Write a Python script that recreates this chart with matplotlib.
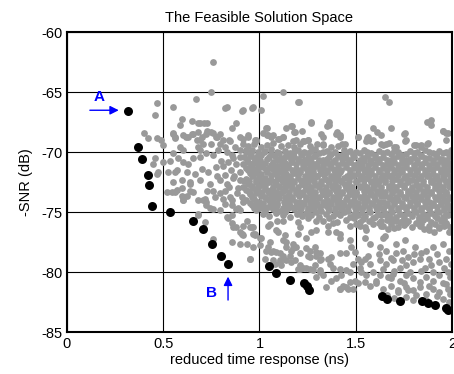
import matplotlib
matplotlib.use("Agg")
import matplotlib.pyplot as plt
import numpy as np

plt.rcParams['font.family'] = ['Liberation Sans', 'DejaVu Sans']
plt.rcParams['axes.unicode_minus'] = False

# non-dominated designs (front)
pareto_x = [0.316, 0.368, 0.389, 0.423, 0.428, 0.442, 0.537, 0.654, 0.705, 0.756, 0.803, 0.839,
            1.048, 1.086, 1.16, 1.233, 1.247, 1.259, 1.634, 1.663, 1.73, 1.845, 1.877, 1.91, 1.966, 1.98]
pareto_y = [-66.56, -69.6, -70.56, -71.9, -72.7, -74.5, -74.97, -75.7, -76.4, -77.6, -78.6, -79.3,
            -79.5, -80.06, -80.67, -80.86, -81.17, -81.45, -81.97, -82.2, -82.4, -82.4, -82.55, -82.7, -82.95, -83.1]

# all other feasible designs
gray_pts = [
    # sparse upper fringe
    (0.76,-62.5),(0.75,-65.0),(1.12,-65.0),(1.02,-65.3),(1.20,-65.8),(0.82,-66.3),(0.83,-66.2),(0.91,-66.6),
    (0.96,-66.3),(1.01,-66.5),(0.73,-67.6),(0.88,-67.6),(0.86,-68.0),(1.04,-68.0),(1.14,-68.0),(1.17,-67.8),
    (1.18,-68.3),(1.22,-68.2),(1.27,-67.5),(1.36,-67.5),(1.65,-65.4),(1.67,-65.8),(1.35,-67.8),(1.40,-68.3),
    (1.42,-68.6),(1.43,-69.3),(1.59,-68.0),(1.61,-68.3),(1.63,-68.6),(1.68,-68.0),(1.75,-68.5),(1.87,-67.5),
    (1.89,-67.3),(1.89,-67.7),(1.95,-68.2),(1.98,-68.4),(1.51,-68.7),(1.56,-68.8),(1.59,-69.0),(1.64,-69.4),
    (1.67,-69.2),(1.71,-69.6),(1.76,-69.0),(1.81,-69.4),(1.84,-69.6),(1.87,-69.3),(1.97,-69.0),
    (0.47,-65.9),(0.55,-66.2),(0.67,-65.6),(0.46,-66.9),(0.60,-67.2),(0.59,-67.7),(0.65,-67.4),(0.68,-67.6),
    (0.71,-67.6),(0.40,-68.4),(0.42,-68.8),(0.47,-68.8),(0.49,-69.0),(0.55,-68.4),(0.56,-68.8),(0.62,-68.7),
    (0.65,-68.5),(0.73,-68.2),(0.76,-68.4),(0.78,-68.7),(0.81,-69.0),(0.84,-69.0),(0.90,-68.7),(0.94,-68.7),
    (0.98,-69.0),(1.04,-68.6),(1.06,-68.7),(1.10,-68.9),(1.12,-68.7),(1.19,-69.0),(1.23,-69.1),(1.25,-69.0),
    (1.30,-69.3),(1.33,-69.3),(0.69,-67.6),(0.69,-69.0),(0.69,-69.8),(0.93,-69.8),(0.98,-69.1),
    (0.915,-66.5),(0.967,-66.2),(1.205,-65.8),(1.036,-68.0),(1.019,-68.4),(1.045,-68.6),(1.071,-68.6),
    (1.097,-68.9),(1.122,-68.7),(1.166,-67.8),(1.183,-68.3),(1.269,-67.6),(1.361,-67.75),(1.321,-68.45),
    (1.33,-68.7),(1.399,-68.45),(1.416,-68.7),(1.174,-69.1),(1.226,-69.1),(1.252,-69.0),(0.941,-68.6),
    (0.976,-69.0),(0.915,-68.9),(1.511,-68.7),(1.563,-68.7),(1.554,-69.1),(1.58,-69.1),(1.632,-69.3),
    (1.658,-69.3),(1.70,-69.6),(1.753,-68.4),(1.753,-69.1),(1.80,-69.4),(1.839,-69.4),(1.874,-69.2),
    (1.951,-68.2),(1.969,-68.4),(1.442,-69.3),
    # left part of the cloud
    (0.50,-69.4),(0.458,-70.5),(0.497,-70.8),(0.449,-70.95),(0.475,-71.6),(0.527,-71.6),(0.466,-71.8),
    (0.561,-71.6),(0.553,-68.45),(0.561,-68.7),(0.605,-68.6),(0.63,-68.7),(0.656,-68.45),(0.682,-68.3),
    (0.70,-68.7),(0.725,-68.45),(0.751,-68.3),(0.777,-68.7),(0.795,-68.45),(0.674,-69.0),(0.708,-69.3),
    (0.682,-69.6),(0.751,-69.3),(0.795,-69.3),(0.82,-69.6),(0.846,-69.1),(0.872,-69.6),(0.898,-69.8),
    (0.915,-69.3),(0.587,-69.6),(0.605,-69.8),(0.553,-70.1),(0.579,-70.5),(0.535,-70.7),(0.605,-70.8),
    (0.63,-70.95),(0.656,-70.5),(0.691,-70.4),(0.725,-70.1),(0.76,-70.25),(0.786,-69.8),(0.57,-71.5),
    (0.622,-71.6),(0.665,-71.8),(0.70,-71.4),(0.734,-71.6),(0.777,-71.2),(0.812,-71.1),(0.838,-70.8),
    (0.864,-70.5),(0.898,-70.4),(0.915,-70.95),(0.553,-72.5),(0.596,-72.3),(0.639,-72.5),(0.691,-72.3),
    (0.743,-72.6),(0.795,-72.3),(0.829,-72.6),(0.864,-72.1),(0.898,-72.3),(0.915,-72.9),(0.518,-73.3),
    (0.544,-73.3),(0.57,-73.1),(0.596,-73.6),(0.605,-73.95),(0.639,-73.2),(0.656,-73.3),(0.682,-74.0),
    (0.708,-73.95),(0.725,-74.1),(0.76,-73.2),(0.795,-73.4),(0.82,-73.2),(0.846,-73.7),(0.881,-73.4),
    (0.907,-73.7),(0.742,-74.6),(0.76,-74.7),(0.794,-74.8),(0.82,-74.3),(0.855,-74.4),(0.89,-74.6),
    (0.915,-74.1),(0.682,-75.25),(0.829,-75.4),(0.855,-75.25),(0.898,-74.8),(0.838,-75.5),(0.898,-76.6),
    (0.915,-76.9),(0.76,-77.2),(0.83,-70.0),(0.86,-70.2),(0.88,-71.0),(0.85,-71.5),(0.82,-71.9),
    (0.87,-72.0),(0.90,-71.6),(0.84,-72.9),(0.89,-73.0),(0.80,-70.7),(0.78,-72.0),(0.92,-72.4),
    (0.73,-73.2),(0.77,-73.7),(0.81,-73.9),(0.86,-74.0),(0.88,-74.7),(0.561,-73.3),(0.596,-73.0),
    (0.639,-72.6),(0.622,-73.6),(0.604,-74.0),(0.717,-73.9),(0.725,-74.4),(0.68,-75.1),(0.72,-75.8),
    (0.86,-75.9),(0.88,-76.2),
    # dense core
    (0.94,-69.5),(0.97,-69.3),(1.01,-69.6),(1.04,-69.4),(1.07,-69.2),(1.11,-69.5),(1.15,-69.4),(1.18,-69.6),
    (1.21,-69.3),(1.26,-69.5),(1.29,-69.7),(1.33,-69.4),(1.37,-69.6),(1.41,-69.5),(1.44,-69.8),
    (0.93,-70.0),(0.96,-69.8),(0.99,-70.0),(1.03,-69.9),(1.06,-69.7),(1.09,-70.0),(1.13,-69.9),(1.16,-70.1),
    (1.20,-69.8),(1.23,-70.0),(1.27,-69.9),(1.31,-70.1),(1.35,-69.9),(1.39,-70.0),(1.43,-70.2),(1.47,-69.9),
    (1.50,-70.0),(1.54,-69.8),(1.58,-70.1),(1.62,-69.9),(1.66,-70.0),(1.70,-69.9),(1.74,-70.2),(1.78,-69.9),
    (1.82,-70.0),(1.86,-69.8),(1.90,-70.1),(1.93,-69.9),(1.97,-70.0),(1.995,-69.8),
    (0.92,-70.4),(0.95,-70.3),(0.98,-70.5),(1.01,-70.2),(1.05,-70.4),(1.08,-70.3),(1.11,-70.5),(1.15,-70.3),
    (1.18,-70.4),(1.22,-70.2),(1.25,-70.5),(1.29,-70.3),(1.33,-70.6),(1.36,-70.4),(1.41,-70.3),(1.45,-70.5),
    (1.49,-70.4),(1.52,-70.6),(1.56,-70.3),(1.60,-70.5),(1.64,-70.4),(1.68,-70.6),(1.72,-70.3),(1.76,-70.6),
    (1.80,-70.4),(1.84,-70.3),(1.88,-70.5),(1.92,-70.4),(1.96,-70.6),(1.99,-70.3),
    (0.94,-70.8),(0.97,-70.9),(1.00,-70.7),(1.03,-70.9),(1.07,-70.8),(1.10,-70.6),(1.13,-70.9),(1.17,-70.8),
    (1.21,-70.7),(1.24,-70.9),(1.27,-70.8),(1.31,-70.7),(1.35,-70.9),(1.38,-70.8),(1.43,-70.9),(1.47,-70.8),
    (1.51,-70.9),(1.54,-70.7),(1.58,-70.9),(1.62,-70.8),(1.66,-71.0),(1.70,-70.8),(1.74,-70.9),(1.78,-70.7),
    (1.82,-70.9),(1.86,-70.8),(1.90,-70.9),(1.94,-70.7),(1.98,-70.9),
    (0.93,-71.3),(0.96,-71.2),(0.99,-71.4),(1.02,-71.2),(1.05,-71.3),(1.09,-71.1),(1.12,-71.3),(1.15,-71.2),
    (1.19,-71.4),(1.23,-71.2),(1.26,-71.3),(1.30,-71.1),(1.33,-71.3),(1.37,-71.2),(1.40,-71.4),(1.45,-71.2),
    (1.49,-71.3),(1.53,-71.2),(1.56,-71.4),(1.60,-71.2),(1.64,-71.3),(1.68,-71.2),(1.72,-71.4),(1.76,-71.2),
    (1.80,-71.3),(1.84,-71.2),(1.88,-71.4),(1.92,-71.2),(1.96,-71.3),(1.99,-71.1),
    (0.95,-71.7),(0.98,-71.6),(1.01,-71.8),(1.04,-71.6),(1.08,-71.7),(1.11,-71.6),(1.14,-71.8),(1.18,-71.7),
    (1.21,-71.6),(1.25,-71.8),(1.28,-71.6),(1.32,-71.7),(1.35,-71.6),(1.39,-71.8),(1.42,-71.6),(1.47,-71.7),
    (1.51,-71.8),(1.55,-71.6),(1.58,-71.7),(1.62,-71.6),(1.66,-71.8),(1.70,-71.7),(1.74,-71.6),(1.78,-71.8),
    (1.82,-71.6),(1.86,-71.7),(1.90,-71.8),(1.94,-71.6),(1.97,-71.7),
    (0.93,-72.2),(0.96,-72.0),(1.00,-72.2),(1.03,-72.1),(1.06,-72.3),(1.10,-72.1),(1.13,-72.0),(1.16,-72.2),
    (1.20,-72.1),(1.23,-72.3),(1.27,-72.1),(1.30,-72.0),(1.34,-72.2),(1.37,-72.1),(1.41,-72.3),(1.44,-72.1),
    (1.48,-72.0),(1.52,-72.2),(1.56,-72.1),(1.60,-72.3),(1.63,-72.1),(1.67,-72.0),(1.71,-72.2),(1.75,-72.1),
    (1.79,-72.3),(1.83,-72.1),(1.87,-72.0),(1.91,-72.2),(1.95,-72.1),(1.99,-72.3),
    (0.94,-72.6),(0.98,-72.5),(1.01,-72.7),(1.05,-72.5),(1.08,-72.6),(1.12,-72.5),(1.15,-72.7),(1.18,-72.5),
    (1.22,-72.6),(1.25,-72.5),(1.29,-72.7),(1.32,-72.6),(1.36,-72.5),(1.39,-72.7),(1.43,-72.5),(1.46,-72.6),
    (1.50,-72.5),(1.54,-72.7),(1.58,-72.5),(1.61,-72.6),(1.65,-72.5),(1.69,-72.7),(1.73,-72.6),(1.77,-72.5),
    (1.81,-72.7),(1.85,-72.6),(1.89,-72.5),(1.93,-72.7),(1.97,-72.5),
    (0.93,-73.1),(0.96,-73.0),(0.99,-73.2),(1.03,-73.0),(1.06,-73.1),(1.10,-72.9),(1.13,-73.1),(1.17,-73.0),
    (1.20,-73.2),(1.24,-73.0),(1.27,-73.1),(1.31,-72.9),(1.34,-73.1),(1.38,-73.0),(1.41,-73.2),(1.45,-73.0),
    (1.48,-73.1),(1.52,-72.9),(1.56,-73.1),(1.59,-73.0),(1.63,-73.2),(1.67,-73.0),(1.71,-73.1),(1.75,-72.9),
    (1.79,-73.1),(1.83,-73.0),(1.87,-73.2),(1.91,-73.0),(1.95,-73.1),(1.99,-72.9),
    (0.95,-73.5),(0.98,-73.4),(1.01,-73.6),(1.05,-73.4),(1.08,-73.5),(1.11,-73.4),(1.15,-73.6),(1.19,-73.4),
    (1.22,-73.5),(1.26,-73.4),(1.29,-73.6),(1.33,-73.5),(1.36,-73.4),(1.40,-73.6),(1.43,-73.4),(1.47,-73.5),
    (1.50,-73.4),(1.54,-73.6),(1.58,-73.5),(1.61,-73.4),(1.65,-73.6),(1.69,-73.4),(1.73,-73.5),(1.77,-73.4),
    (1.81,-73.6),(1.85,-73.5),(1.89,-73.4),(1.93,-73.6),(1.97,-73.4),
    (0.93,-74.0),(0.97,-73.9),(1.00,-74.1),(1.04,-73.9),(1.07,-74.0),(1.10,-73.8),(1.14,-74.0),(1.17,-73.9),
    (1.21,-74.1),(1.24,-73.9),(1.28,-74.0),(1.31,-73.8),(1.35,-74.0),(1.38,-73.9),(1.42,-74.1),(1.45,-73.9),
    (1.49,-74.0),(1.53,-73.8),(1.56,-74.0),(1.60,-73.9),(1.64,-74.1),(1.68,-73.9),(1.72,-74.0),(1.76,-73.8),
    (1.80,-74.0),(1.84,-73.9),(1.88,-74.1),(1.92,-73.9),(1.96,-74.0),(1.99,-73.8),
    (0.96,-74.4),(0.99,-74.3),(1.02,-74.5),(1.06,-74.3),(1.09,-74.4),(1.13,-74.3),(1.16,-74.5),(1.20,-74.4),
    (1.23,-74.3),(1.27,-74.5),(1.30,-74.3),(1.34,-74.4),(1.37,-74.3),(1.41,-74.5),(1.44,-74.4),(1.48,-74.3),
    (1.51,-74.5),(1.55,-74.4),(1.59,-74.3),(1.62,-74.5),(1.66,-74.4),(1.70,-74.3),(1.74,-74.5),(1.78,-74.4),
    (1.82,-74.3),(1.86,-74.5),(1.90,-74.4),(1.94,-74.3),(1.98,-74.5),
    (0.98,-74.8),(1.03,-74.9),(1.07,-74.7),(1.10,-74.9),(1.14,-74.8),(1.18,-74.7),(1.21,-74.9),(1.25,-74.8),
    (1.28,-74.7),(1.32,-74.9),(1.36,-74.8),(1.39,-74.9),(1.43,-74.7),(1.46,-74.9),(1.50,-74.8),(1.53,-74.7),
    (1.57,-74.9),(1.61,-74.8),(1.64,-74.7),(1.68,-74.9),(1.72,-74.8),(1.76,-74.7),(1.80,-74.9),(1.84,-74.8),
    (1.88,-74.7),(1.92,-74.9),(1.96,-74.8),(1.99,-74.7),
    (1.05,-75.3),(1.12,-75.2),(1.16,-75.4),(1.22,-75.3),(1.27,-75.2),(1.31,-75.4),(1.38,-75.3),(1.42,-75.2),
    (1.47,-75.4),(1.51,-75.2),(1.55,-75.3),(1.60,-75.4),(1.63,-75.2),(1.67,-75.3),(1.71,-75.4),(1.75,-75.2),
    (1.79,-75.3),(1.83,-75.4),(1.87,-75.2),(1.91,-75.3),(1.95,-75.4),(1.98,-75.2),
    (1.09,-75.7),(1.20,-75.8),(1.33,-75.7),(1.40,-75.8),(1.45,-75.6),(1.52,-75.8),(1.57,-75.7),(1.62,-75.9),
    (1.66,-75.6),(1.73,-75.8),(1.77,-75.7),(1.81,-75.9),(1.85,-75.6),(1.89,-75.8),(1.94,-75.7),(1.97,-75.9),
    (1.47,-76.1),(1.55,-76.2),(1.64,-76.1),(1.70,-76.3),(1.79,-76.2),(1.88,-76.1),(1.93,-76.3),(1.99,-76.2),
    # core, in-between rows
    (0.955,-70.1),(0.99,-70.2),(1.025,-70.0),(1.06,-70.15),(1.10,-70.05),(1.14,-70.2),(1.18,-70.0),
    (1.215,-70.15),(1.25,-70.05),(1.29,-70.2),(1.33,-70.0),(1.37,-70.15),(1.45,-70.05),(1.485,-70.2),
    (1.52,-70.1),(1.56,-70.0),(1.60,-70.2),(1.64,-70.05),(1.68,-70.15),(1.72,-70.0),(1.76,-70.15),
    (1.80,-70.05),(1.84,-70.2),(1.88,-70.0),(1.915,-70.15),(1.95,-70.05),(1.985,-70.2),
    (0.935,-70.6),(0.97,-70.5),(1.005,-70.65),(1.04,-70.55),(1.09,-70.6),(1.125,-70.5),(1.165,-70.65),
    (1.20,-70.55),(1.235,-70.65),(1.27,-70.5),(1.31,-70.6),(1.35,-70.55),(1.39,-70.65),(1.43,-70.55),
    (1.47,-70.6),(1.535,-70.5),(1.575,-70.65),(1.62,-70.55),(1.66,-70.6),(1.70,-70.5),(1.74,-70.65),
    (1.78,-70.55),(1.82,-70.6),(1.86,-70.5),(1.90,-70.65),(1.94,-70.55),(1.975,-70.6),
    (0.955,-71.0),(0.99,-71.05),(1.02,-70.95),(1.06,-71.05),(1.115,-71.0),(1.15,-71.05),(1.19,-70.95),
    (1.225,-71.05),(1.26,-71.0),(1.29,-70.95),(1.33,-71.05),(1.365,-71.0),(1.41,-71.05),(1.45,-70.95),
    (1.49,-71.05),(1.525,-71.0),(1.565,-71.05),(1.60,-70.95),(1.64,-71.05),(1.685,-71.0),(1.72,-71.05),
    (1.76,-70.95),(1.80,-71.05),(1.845,-71.0),(1.88,-71.05),(1.92,-70.95),(1.955,-71.05),(1.99,-71.0),
    (0.94,-71.5),(0.975,-71.45),(1.035,-71.5),(1.07,-71.4),(1.10,-71.5),(1.135,-71.45),(1.17,-71.5),
    (1.21,-71.45),(1.245,-71.5),(1.28,-71.4),(1.315,-71.5),(1.35,-71.45),(1.385,-71.5),(1.425,-71.45),
    (1.47,-71.5),(1.51,-71.4),(1.545,-71.5),(1.58,-71.45),(1.62,-71.5),(1.66,-71.45),(1.70,-71.5),
    (1.74,-71.4),(1.78,-71.5),(1.82,-71.45),(1.86,-71.5),(1.90,-71.4),(1.94,-71.5),(1.98,-71.45),
    (0.965,-71.9),(1.00,-71.95),(1.06,-71.9),(1.09,-71.95),(1.125,-71.85),(1.16,-71.95),(1.20,-71.9),
    (1.235,-71.95),(1.265,-71.85),(1.30,-71.95),(1.335,-71.9),(1.37,-71.95),(1.405,-71.85),(1.455,-71.95),
    (1.49,-71.9),(1.53,-71.95),(1.57,-71.85),(1.60,-71.95),(1.64,-71.9),(1.68,-71.95),(1.72,-71.85),
    (1.76,-71.95),(1.80,-71.9),(1.84,-71.95),(1.88,-71.85),(1.92,-71.95),(1.96,-71.9),(1.99,-71.95),
    (0.945,-72.4),(0.98,-72.3),(1.015,-72.4),(1.045,-72.35),(1.085,-72.4),(1.115,-72.3),(1.145,-72.4),
    (1.175,-72.35),(1.215,-72.4),(1.25,-72.3),(1.285,-72.4),(1.32,-72.35),(1.355,-72.4),(1.39,-72.3),
    (1.425,-72.4),(1.465,-72.35),(1.50,-72.4),(1.54,-72.3),(1.58,-72.4),(1.62,-72.35),(1.65,-72.3),
    (1.69,-72.4),(1.73,-72.35),(1.77,-72.3),(1.81,-72.4),(1.85,-72.35),(1.89,-72.3),(1.93,-72.4),(1.97,-72.35),
    (0.96,-72.8),(0.995,-72.85),(1.03,-72.75),(1.07,-72.85),(1.10,-72.8),(1.135,-72.85),(1.165,-72.75),
    (1.20,-72.85),(1.235,-72.8),(1.27,-72.85),(1.305,-72.75),(1.345,-72.85),(1.375,-72.8),(1.41,-72.85),
    (1.445,-72.75),(1.48,-72.85),(1.52,-72.8),(1.56,-72.85),(1.595,-72.75),(1.63,-72.85),(1.67,-72.8),
    (1.71,-72.85),(1.75,-72.75),(1.79,-72.85),(1.83,-72.8),(1.87,-72.85),(1.91,-72.75),(1.95,-72.85),(1.985,-72.8),
    (0.945,-73.3),(0.98,-73.25),(1.015,-73.3),(1.045,-73.2),(1.085,-73.3),(1.12,-73.25),(1.155,-73.3),
    (1.19,-73.2),(1.225,-73.3),(1.255,-73.25),(1.29,-73.3),(1.325,-73.2),(1.36,-73.3),(1.395,-73.25),
    (1.43,-73.3),(1.465,-73.2),(1.50,-73.3),(1.54,-73.25),(1.575,-73.3),(1.61,-73.2),(1.65,-73.3),
    (1.69,-73.25),(1.73,-73.3),(1.77,-73.2),(1.81,-73.3),(1.85,-73.25),(1.89,-73.3),(1.93,-73.2),(1.97,-73.3),
    (0.96,-73.7),(1.03,-73.75),(1.065,-73.65),(1.095,-73.75),(1.13,-73.7),(1.17,-73.75),(1.205,-73.65),
    (1.24,-73.75),(1.275,-73.7),(1.31,-73.75),(1.345,-73.65),(1.38,-73.75),(1.415,-73.7),(1.455,-73.75),
    (1.49,-73.65),(1.52,-73.75),(1.56,-73.7),(1.595,-73.75),(1.63,-73.65),(1.67,-73.75),(1.71,-73.7),
    (1.75,-73.75),(1.79,-73.65),(1.83,-73.75),(1.87,-73.7),(1.91,-73.75),(1.95,-73.65),(1.985,-73.75),
    (0.95,-74.2),(0.985,-74.15),(1.02,-74.2),(1.055,-74.1),(1.09,-74.2),(1.125,-74.15),(1.155,-74.2),
    (1.19,-74.1),(1.225,-74.2),(1.26,-74.15),(1.295,-74.2),(1.33,-74.1),(1.365,-74.2),(1.40,-74.15),
    (1.435,-74.2),(1.47,-74.1),(1.51,-74.2),(1.545,-74.15),(1.58,-74.2),(1.62,-74.1),(1.66,-74.2),
    (1.70,-74.15),(1.74,-74.2),(1.78,-74.1),(1.82,-74.2),(1.86,-74.15),(1.90,-74.2),(1.94,-74.1),(1.975,-74.2),
    (0.97,-74.6),(1.005,-74.65),(1.045,-74.55),(1.08,-74.65),(1.12,-74.6),(1.15,-74.65),(1.185,-74.55),
    (1.215,-74.65),(1.25,-74.6),(1.285,-74.65),(1.315,-74.55),(1.355,-74.65),(1.39,-74.6),(1.425,-74.65),
    (1.46,-74.55),(1.495,-74.65),(1.53,-74.6),(1.57,-74.65),(1.605,-74.55),(1.64,-74.65),(1.68,-74.6),
    (1.72,-74.65),(1.76,-74.55),(1.80,-74.65),(1.84,-74.6),(1.88,-74.65),(1.92,-74.55),(1.96,-74.65),(1.99,-74.6),
    (1.02,-75.1),(1.085,-75.05),(1.13,-75.0),(1.195,-75.1),(1.24,-75.05),(1.295,-75.0),(1.345,-75.1),
    (1.40,-75.05),(1.44,-75.0),(1.49,-75.1),(1.53,-75.05),(1.575,-75.0),(1.615,-75.1),(1.65,-75.05),
    (1.69,-75.0),(1.73,-75.1),(1.77,-75.05),(1.81,-75.0),(1.85,-75.1),(1.89,-75.05),(1.93,-75.0),(1.97,-75.1),
    (1.25,-75.5),(1.36,-75.5),(1.49,-75.5),(1.535,-75.55),(1.59,-75.5),(1.69,-75.55),(1.75,-75.5),
    (1.83,-75.55),(1.87,-75.45),(1.92,-75.5),(1.96,-75.55),
    (1.50,-75.95),(1.59,-76.0),(1.68,-75.95),(1.75,-76.05),(1.84,-75.95),(1.91,-76.0),(1.97,-76.0),
    # below the core
    (0.933,-75.7),(0.95,-76.2),(0.967,-76.8),(1.045,-76.1),(1.088,-76.5),(1.122,-75.7),(1.209,-76.2),
    (1.20,-76.8),(1.269,-76.6),(1.295,-75.7),(1.356,-76.6),(1.382,-75.9),(1.416,-76.8),(1.002,-77.1),
    (1.52,-76.1),(1.632,-75.7),(1.666,-76.4),(1.718,-76.2),(1.744,-75.7),(1.856,-76.4),(1.908,-76.6),
    (1.96,-76.1),(1.546,-77.1),(1.649,-77.0),
    # lower band above the front
    (0.915,-76.1),(0.967,-76.2),(0.907,-76.8),(0.976,-76.8),(0.933,-77.6),(0.967,-77.9),(0.95,-78.9),
    (1.053,-76.0),(1.097,-76.6),(1.131,-76.9),(1.14,-77.5),(1.174,-77.6),(1.192,-77.9),(1.166,-78.2),
    (1.122,-78.6),(1.105,-78.4),(1.071,-78.2),(1.045,-77.9),(1.062,-78.3),(1.028,-78.9),(1.071,-79.0),
    (1.105,-79.1),(1.166,-79.1),(1.209,-79.4),(1.209,-79.7),(1.243,-79.6),(1.278,-79.8),(1.313,-80.0),
    (1.33,-80.25),(1.243,-78.0),(1.261,-78.2),(1.287,-77.9),(1.295,-78.6),(1.252,-78.6),(1.313,-78.4),
    (1.321,-78.9),(1.356,-78.9),(1.364,-79.3),(1.382,-79.6),(1.416,-79.7),(1.45,-79.8),(1.468,-80.0),
    (1.425,-80.25),(1.399,-80.5),(1.373,-80.7),(1.243,-77.1),(1.295,-76.5),(1.356,-76.1),(1.399,-76.6),
    (1.416,-77.1),(1.468,-77.3),(1.477,-77.9),(1.45,-78.4),(1.416,-78.4),(1.373,-78.7),(1.494,-78.3),
    (1.511,-78.9),(1.528,-79.1),(1.546,-78.9),(1.563,-78.6),(1.572,-79.3),(1.52,-79.6),(1.485,-79.3),
    (1.528,-80.0),(1.554,-80.25),(1.494,-80.7),(1.468,-80.8),(1.433,-81.1),(1.416,-81.4),(1.459,-81.4),
    (1.511,-80.9),(1.546,-80.8),(1.347,-81.2),(1.641,-77.1),(1.71,-77.6),(1.753,-77.3),(1.805,-77.9),
    (1.839,-78.4),(1.865,-78.2),(1.90,-77.9),(1.952,-77.6),(1.986,-78.2),(1.623,-79.0),(1.658,-79.3),
    (1.693,-79.0),(1.727,-79.6),(1.762,-79.4),(1.796,-79.1),(1.831,-78.9),(1.857,-79.6),(1.891,-79.4),
    (1.934,-79.1),(1.969,-78.9),(1.995,-79.3),(1.589,-80.0),(1.623,-80.25),(1.667,-80.4),(1.693,-80.1),
    (1.727,-80.7),(1.762,-80.25),(1.796,-80.5),(1.831,-80.8),(1.865,-80.4),(1.90,-80.7),(1.934,-80.25),
    (1.977,-80.0),(1.99,-80.4),(1.606,-80.9),(1.641,-81.4),(1.684,-81.1),(1.718,-81.5),(1.762,-81.2),
    (1.796,-81.5),(1.831,-81.2),(1.865,-81.8),(1.90,-81.4),(1.934,-81.6),(1.977,-81.4),(1.99,-81.8),
    (1.70,-82.1),(1.762,-82.05),(1.796,-82.3),(1.865,-82.3),(1.952,-82.2),(1.986,-82.5),(1.554,-76.5),
    (1.572,-77.6),(1.623,-77.9),(1.658,-78.2),(1.71,-78.4),(1.744,-78.2),(1.77,-78.7),(1.658,-75.25),
    (1.71,-75.7),(1.762,-75.9),(1.831,-76.1),(1.882,-76.5),(1.934,-76.2),(1.986,-76.6),(1.952,-75.7),
    (1.632,-76.1),(1.416,-81.4),(1.451,-81.2),(1.485,-81.4),(1.572,-81.1),(1.606,-80.7),(1.684,-80.5),
    (1.77,-81.5),(1.72,-81.6),
    (1.62,-78.5),(1.68,-78.8),(1.74,-79.0),(1.80,-78.5),(1.88,-78.9),(1.92,-78.5),(1.96,-79.6),(1.64,-79.7),
    (1.70,-79.9),(1.78,-80.0),(1.84,-79.9),(1.90,-80.0),(1.95,-80.9),(1.88,-81.1),(1.81,-81.9),(1.75,-80.9),
    (1.66,-81.9),(1.97,-81.0),(1.92,-82.0),
    (0.864,-76.2),(0.907,-76.8),(0.959,-76.2),(0.976,-76.9),(0.898,-77.6),(0.855,-77.5),(0.95,-78.9),
    (1.01,-77.1),(1.002,-77.75),(1.036,-78.2),(1.054,-77.5),(1.088,-78.3),(1.105,-79.0),(1.08,-79.3),
    (1.114,-79.4),(1.14,-79.0),(1.157,-78.6),(1.174,-78.0),(1.183,-79.0),(1.209,-78.4),(1.226,-79.6),
    (1.20,-79.7),(1.261,-79.7),(1.287,-79.4),(1.313,-79.8),(1.295,-80.4),(1.261,-78.7),(1.295,-78.3),
    (1.313,-79.0),(1.123,-77.3),(1.14,-77.9),
]

gray_x = [p[0] for p in gray_pts]
gray_y = [p[1] for p in gray_pts]

fig = plt.figure(figsize=(4.54, 3.74), dpi=100)
ax = fig.add_axes([0.147, 0.111, 0.849, 0.803])

ax.scatter(gray_x, gray_y, s=24, color='#999999', linewidths=0, zorder=2)
ax.scatter(pareto_x, pareto_y, s=42, color='black', linewidths=0, zorder=3)

# labels for the two ends of the front
ax.annotate('', xy=(0.27, -66.5), xytext=(0.12, -66.5),
            arrowprops=dict(arrowstyle='-|>', color='blue', lw=1.0, mutation_scale=13, shrinkA=0, shrinkB=0))
ax.text(0.168, -65.4, 'A', color='blue', fontsize=11, fontweight='bold', ha='center', va='center')
ax.annotate('', xy=(0.837, -80.35), xytext=(0.837, -82.3),
            arrowprops=dict(arrowstyle='-|>', color='blue', lw=1.0, mutation_scale=13, shrinkA=0, shrinkB=0))
ax.text(0.749, -81.7, 'B', color='blue', fontsize=11, fontweight='bold', ha='center', va='center')

ax.set_xlim(0, 2)
ax.set_ylim(-85, -60)
ax.set_xticks([0, 0.5, 1, 1.5, 2])
ax.set_xticklabels(['0', '0.5', '1', '1.5', '2'])
ax.set_yticks([-85, -80, -75, -70, -65, -60])
ax.tick_params(length=0, labelsize=10.5, pad=3)
ax.grid(True, color='black', linewidth=0.8)
ax.set_axisbelow(True)
for sp in ax.spines.values():
    sp.set_linewidth(1.5)

ax.set_title('The Feasible Solution Space', fontsize=10.5, pad=7)
ax.set_xlabel('reduced time response (ns)', fontsize=10.5, labelpad=2)
ax.set_ylabel('-SNR (dB)', fontsize=10.5, labelpad=6)

fig.savefig('out.png', dpi=100)
